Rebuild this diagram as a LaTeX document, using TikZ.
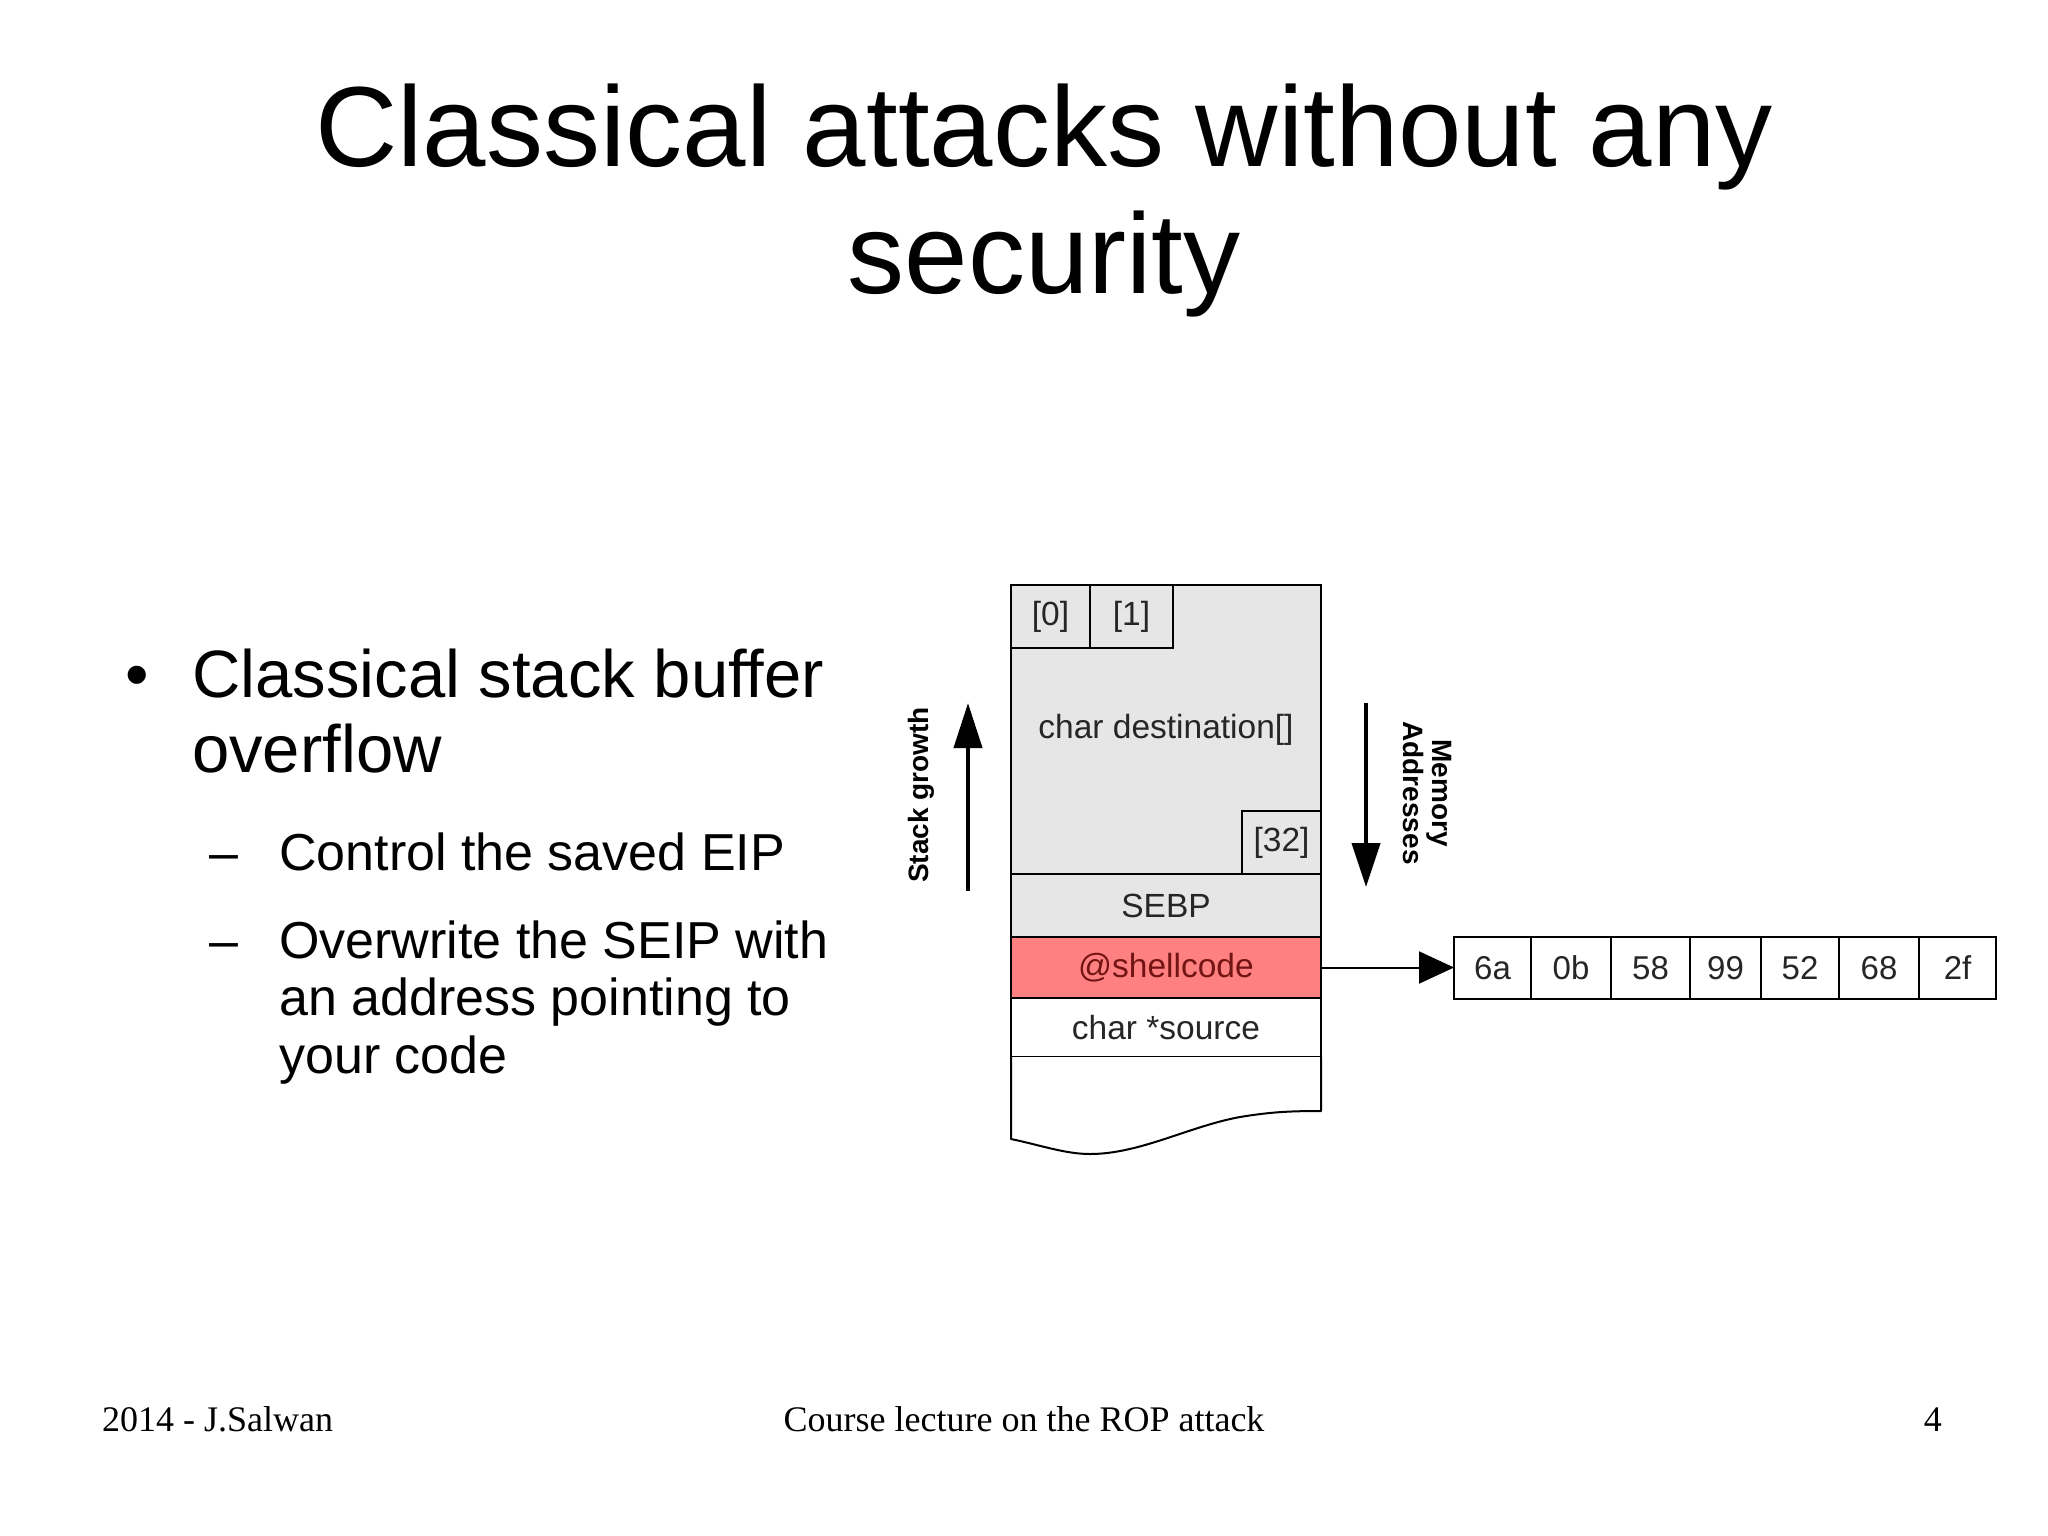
\documentclass[tikz,border=0pt]{standalone}
\usepackage{fontspec}
\setmainfont{Liberation Sans}
\newfontfamily\footfont{Liberation Serif}
\usetikzlibrary{arrows.meta}
\definecolor{cellgray}{RGB}{230,230,230}
\definecolor{shellred}{RGB}{255,128,128}
\definecolor{shelltext}{RGB}{115,20,20}
\begin{document}
\begin{tikzpicture}[x=1pt,y=-1pt,
  cell/.style={draw=black, line width=2pt, inner sep=0pt, outer sep=0pt, fill=cellgray,
    font=\fontsize{33.5}{38}\selectfont, text=black!85},
  bytecell/.style={draw=black, line width=2pt, inner sep=0pt, outer sep=0pt, fill=white,
    minimum height=62pt, font=\fontsize{33}{38}\selectfont, text=black!85},
  title/.style={anchor=base, inner sep=0pt, font=\fontsize{114}{130}\selectfont},
  lvlone/.style={anchor=base west, inner sep=0pt, font=\fontsize{67}{75}\selectfont},
  lvltwo/.style={anchor=base west, inner sep=0pt, font=\fontsize{52}{58}\selectfont},
  foot/.style={inner sep=0pt, font=\footfont\fontsize{36}{40}\selectfont},
  bigarrow/.style={line width=4pt, -{Triangle[length=45pt,width=28pt]}},
  sidelabel/.style={inner sep=0pt, font=\bfseries\fontsize{28}{29}\selectfont, align=center}]
\useasboundingbox (0,0) rectangle (2048,1535);
\fill[white] (0,0) rectangle (2048,1535);

% title
\node[title] (t1) at (1044,166) {Classical attacks without any};
\node[title] (t2) at (1044,293) {security};

% bullets
\node[anchor=base, inner sep=0pt, font=\fontsize{67}{75}\selectfont] (b0) at (137,697) {•};
\node[lvlone] (l1a) at (192,697) {Classical stack buffer};
\node[lvlone] (l1b) at (192,772) {overflow};
\node[anchor=base, inner sep=0pt, font=\fontsize{52}{58}\selectfont] (d1) at (224,870) {–};
\node[lvltwo] (l2a) at (279,870) {Control the saved EIP};
\node[anchor=base, inner sep=0pt, font=\fontsize{52}{58}\selectfont] (d2) at (224,958) {–};
\node[lvltwo] (l3a) at (279,958) {Overwrite the SEIP with};
\node[lvltwo] (l3b) at (279,1015) {an address pointing to};
\node[lvltwo] (l3c) at (279,1073) {your code};

% stack
\node[cell, minimum width=310pt, minimum height=289pt] (dest) at (1166,729.5) {char destination[]};
\node[cell, minimum width=79pt, minimum height=63pt] (c0) at (1050.5,616.5) {[0]};
\node[cell, minimum width=83pt, minimum height=63pt] (c1) at (1131.5,616.5) {[1]};
\node[cell, minimum width=79pt, minimum height=63pt] (c32) at (1281.5,842.5) {[32]};
\node[cell, minimum width=310pt, minimum height=63pt] (sebp) at (1166,905.5) {SEBP};
\node[cell, fill=shellred, text=shelltext, minimum width=310pt, minimum height=61pt] (shell) at (1166,967.5) {@shellcode};
\node[cell, fill=white, minimum width=310pt, minimum height=59pt] (src) at (1166,1027.5) {char *source};
\draw[line width=2pt, fill=white, line join=round] (src.south west) -- (1011,1139)
  .. controls (1040,1145) and (1065,1154) .. (1090,1154)
  .. controls (1140,1154) and (1190,1126) .. (1240,1117)
  .. controls (1270,1112) and (1290,1111) .. (1321,1111) -- (src.south east);

% side arrows
\coordinate (sgbot) at (968,891);
\coordinate (sgtop) at (968,703);
\draw[bigarrow] (sgbot) -- (sgtop);
\node[sidelabel, rotate=90] (sglab) at (921,795) {Stack growth};
\coordinate (matop) at (1366,703);
\coordinate (mabot) at (1366,887);
\draw[bigarrow, -{Triangle[length=44pt,width=28pt]}] (matop) -- (mabot);
\node[sidelabel, rotate=-90] (malab) at (1427,793) {Memory\\Addresses};

% bytes
\node[bytecell, minimum width=77pt] (y1) at (1492.5,968) {6a};
\node[bytecell, minimum width=80pt] (y2) at (1571,968) {0b};
\node[bytecell, minimum width=79pt] (y3) at (1650.5,968) {58};
\node[bytecell, minimum width=71pt] (y4) at (1725.5,968) {99};
\node[bytecell, minimum width=78pt] (y5) at (1800,968) {52};
\node[bytecell, minimum width=80pt] (y6) at (1879,968) {68};
\node[bytecell, minimum width=77pt] (y7) at (1957.5,968) {2f};
\draw[line width=2pt, -{Triangle[length=35pt,width=32pt]}] (shell.east) -- (shell.east -| y1.west);

% footer
\node[foot, anchor=base west] (f1) at (102,1431) {2014 - J.Salwan};
\node[foot, anchor=base] (f2) at (1024,1431) {Course lecture on the ROP attack};
\node[foot, anchor=base east] (f3) at (1942,1431) {4};
\end{tikzpicture}
\end{document}
